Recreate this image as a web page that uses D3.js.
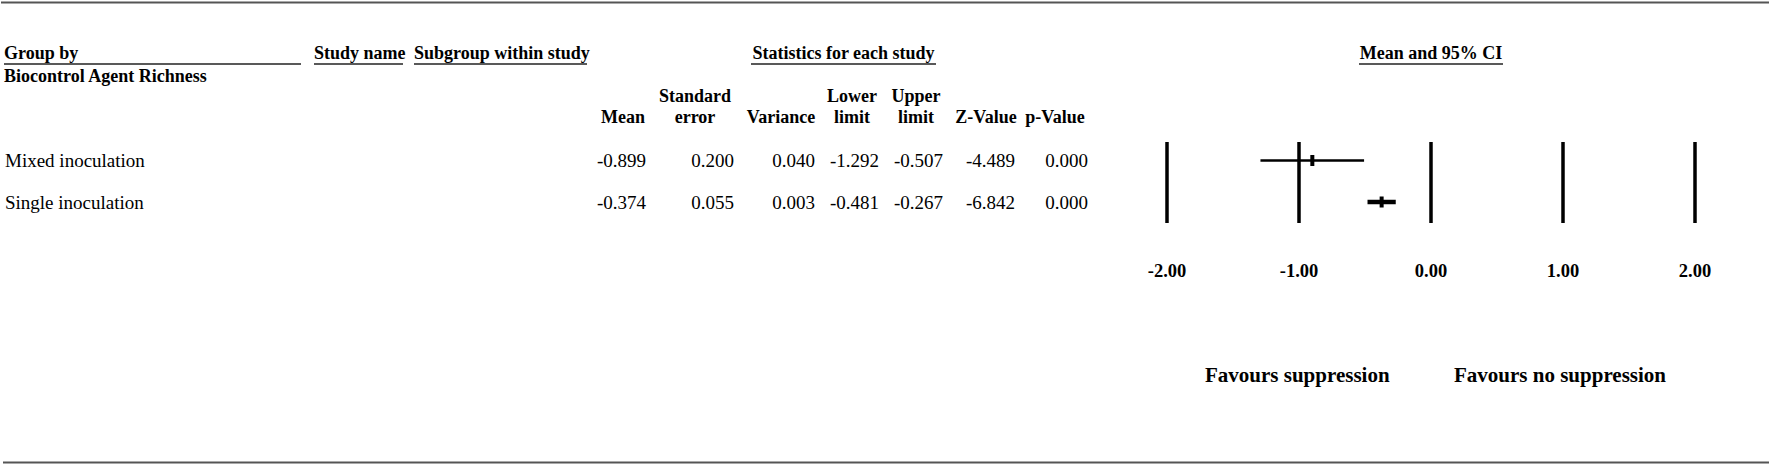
<!DOCTYPE html>
<html>
<head>
<meta charset="utf-8">
<script src="https://cdn.jsdelivr.net/npm/d3@7"></script>
<style>
  body { margin: 0; background: #fff; }
  svg text { font-family: "Times New Roman", "Liberation Serif", serif; fill: #000; }
  .hd { font-weight: bold; font-size: 18px; }
  .val { font-size: 19px; }
</style>
</head>
<body>
<svg id="chart"></svg>
<script>
// groups and statistics for each study
var groups = ["Mixed inoculation", "Single inoculation"];
var means = [-0.899, -0.374];
var stdErrors = [0.200, 0.055];
var variances = [0.040, 0.003];
var lowerLimits = [-1.292, -0.481];
var upperLimits = [-0.507, -0.267];
var zValues = [-4.489, -6.842];
var pValues = [0.000, 0.000];
var axisTicks = [-2, -1, 0, 1, 2];

var width = 1772, height = 466;
var svg = d3.select("#chart").attr("width", width).attr("height", height);

// plain hyphen for negatives, like the original output
var locale = d3.formatLocale({decimal: ".", thousands: ",", grouping: [3], currency: ["", ""], minus: "-"});
var fmt = locale.format(".3f");
var tickFmt = locale.format(".2f");

// frame lines
svg.append("line").attr("x1", 1).attr("x2", 1769).attr("y1", 2.5).attr("y2", 2.5)
  .attr("stroke", "#555").attr("stroke-width", 2);
svg.append("line").attr("x1", 3).attr("x2", 1769).attr("y1", 462.5).attr("y2", 462.5)
  .attr("stroke", "#555").attr("stroke-width", 2);

// underlined top headers
var topHeads = [
  {t: "Group by", x: 4, x2: 301, anchor: "start"},
  {t: "Study name", x: 314, x2: 403, anchor: "start"},
  {t: "Subgroup within study", x: 414, x2: 587, anchor: "start"},
  {t: "Statistics for each study", x: 843.5, x1: 751, x2: 936, anchor: "middle"},
  {t: "Mean and 95% CI", x: 1431, x1: 1359, x2: 1503, anchor: "middle"}
];
topHeads.forEach(function(h){
  svg.append("text").attr("class", "hd").attr("x", h.x).attr("y", 59)
    .attr("text-anchor", h.anchor).text(h.t);
  svg.append("line").attr("x1", h.x1 != null ? h.x1 : h.x).attr("x2", h.x2)
    .attr("y1", 64).attr("y2", 64).attr("stroke", "#222").attr("stroke-width", 1.6);
});
svg.append("text").attr("class", "hd").attr("x", 4).attr("y", 82).text("Biocontrol Agent Richness");

// stats columns
var cols = [
  {h: ["", "Mean"], hx: 623, vx: 646, v: means},
  {h: ["Standard", "error"], hx: 695, vx: 734, v: stdErrors},
  {h: ["", "Variance"], hx: 781, vx: 815, v: variances},
  {h: ["Lower", "limit"], hx: 852, vx: 879, v: lowerLimits},
  {h: ["Upper", "limit"], hx: 916, vx: 943, v: upperLimits},
  {h: ["", "Z-Value"], hx: 986, vx: 1015, v: zValues},
  {h: ["", "p-Value"], hx: 1055, vx: 1088, v: pValues}
];

var y = d3.scalePoint().domain(groups).range([160.5, 202]);

cols.forEach(function(c){
  svg.append("text").attr("class", "hd").attr("x", c.hx).attr("y", 102)
    .attr("text-anchor", "middle").text(c.h[0]);
  svg.append("text").attr("class", "hd").attr("x", c.hx).attr("y", 123)
    .attr("text-anchor", "middle").text(c.h[1]);
  svg.selectAll(null).data(groups).enter().append("text")
    .attr("class", "val")
    .attr("x", c.vx)
    .attr("y", function(d){ return y(d) + 6.5; })
    .attr("text-anchor", "end")
    .text(function(d, i){ return fmt(c.v[i]); });
});

svg.selectAll(".grp").data(groups).enter().append("text")
  .attr("class", "val grp")
  .attr("x", 5)
  .attr("y", function(d){ return y(d) + 6.5; })
  .text(function(d){ return d; });

// forest plot
var x = d3.scaleLinear().domain([-2, 2]).range([1167, 1695]);
var weight = d3.scaleSqrt().domain([0, d3.max(variances, function(v){ return 1 / v; })]).range([2, 4.5]);

var plot = svg.append("g");
plot.selectAll(".tick").data(axisTicks).enter().append("line")
  .attr("x1", function(d){ return x(d); })
  .attr("x2", function(d){ return x(d); })
  .attr("y1", 142).attr("y2", 223)
  .attr("stroke", "#000").attr("stroke-width", 3.5);

plot.selectAll(".ci").data(groups).enter().append("line")
  .attr("x1", function(d, i){ return x(lowerLimits[i]); })
  .attr("x2", function(d, i){ return x(upperLimits[i]); })
  .attr("y1", function(d){ return y(d); })
  .attr("y2", function(d){ return y(d); })
  .attr("stroke", "#000")
  .attr("stroke-width", function(d, i){ return weight(1 / variances[i]); });

plot.selectAll(".mk").data(groups).enter().append("rect")
  .attr("x", function(d, i){ return x(means[i]) - 2; })
  .attr("y", function(d){ return y(d) - 5.5; })
  .attr("width", 4).attr("height", 11)
  .attr("fill", "#000");

plot.selectAll(".tl").data(axisTicks).enter().append("text")
  .attr("class", "hd")
  .style("font-size", "18.5px")
  .attr("x", function(d){ return x(d); })
  .attr("y", 277)
  .attr("text-anchor", "middle")
  .text(function(d){ return tickFmt(d); });

svg.append("text").attr("class", "hd").style("font-size", "21px")
  .attr("x", 1205).attr("y", 382).text("Favours suppression");
svg.append("text").attr("class", "hd").style("font-size", "21px")
  .attr("x", 1454).attr("y", 382).text("Favours no suppression");
</script>
</body>
</html>
